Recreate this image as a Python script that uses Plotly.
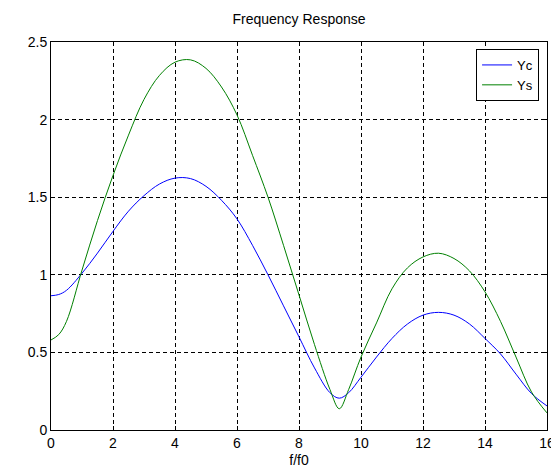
import plotly.graph_objects as go

f = [0, 0.25, 0.5, 1, 1.5, 2, 2.5, 3, 3.5, 4, 4.5, 5, 5.5, 6, 6.5, 7, 7.5, 8, 8.5, 9, 9.3,
     9.6, 10, 10.5, 11, 11.5, 12, 12.5, 13, 13.5, 14, 14.5, 15, 15.5, 16]
yc = [0.865, 0.873, 0.90, 1.01, 1.14, 1.28, 1.41, 1.51, 1.585, 1.623, 1.62, 1.57, 1.48, 1.36,
      1.19, 1.00, 0.80, 0.60, 0.40, 0.24, 0.205, 0.24, 0.34, 0.47, 0.59, 0.683, 0.74, 0.758,
      0.74, 0.683, 0.59, 0.49, 0.36, 0.235, 0.155]
ys = [0.58, 0.615, 0.70, 1.03, 1.35, 1.64, 1.90, 2.13, 2.285, 2.37, 2.385, 2.33, 2.21, 2.03,
      1.77, 1.50, 1.19, 0.87, 0.55, 0.26, 0.137, 0.26, 0.47, 0.69, 0.91, 1.045, 1.115, 1.139,
      1.105, 1.025, 0.89, 0.70, 0.47, 0.245, 0.11]
xticks = [0, 2, 4, 6, 8, 10, 12, 14, 16]
yticks = [0, 0.5, 1, 1.5, 2, 2.5]

font = "Liberation Sans, Arial, sans-serif"
fig = go.Figure()
fig.add_trace(go.Scatter(x=f, y=yc, mode="lines", name="Yc",
                         line=dict(color="#0000ff", width=1, shape="spline", smoothing=1)))
fig.add_trace(go.Scatter(x=f, y=ys, mode="lines", name="Ys",
                         line=dict(color="#008000", width=1, shape="spline", smoothing=1)))

axis_common = dict(showline=True, linecolor="black", linewidth=1, mirror="ticks",
                   ticks="inside", ticklen=4, tickcolor="black",
                   showgrid=True, gridcolor="black", gridwidth=1, griddash="4px,3px",
                   zeroline=False, tickfont=dict(family=font, size=14, color="black"))
fig.update_xaxes(range=[0, 16], tickvals=xticks, ticktext=[str(v) for v in xticks],
                 title=dict(text="f/f0", font=dict(family=font, size=14, color="black"), standoff=5),
                 **axis_common)
fig.update_yaxes(range=[0, 2.5], tickvals=yticks, ticktext=["0", "0.5", "1", "1.5", "2", "2.5"],
                 **axis_common)

fig.update_layout(
    width=559, height=470,
    margin=dict(l=43, r=12, t=34, b=39),
    paper_bgcolor="white", plot_bgcolor="white",
    title=dict(text="Frequency Response", x=0.5, xref="paper", xanchor="center",
               y=1 - 6 / 470, yref="container", yanchor="top",
               font=dict(family=font, size=14, color="black")),
    legend=dict(x=0.984, xanchor="right", y=0.982, yanchor="top",
                bgcolor="white", bordercolor="black", borderwidth=1,
                font=dict(family=font, size=13, color="black"),
                tracegroupgap=0, itemwidth=30, entrywidth=34, entrywidthmode="pixels"),
    showlegend=True,
)
fig.write_html("out.html")
